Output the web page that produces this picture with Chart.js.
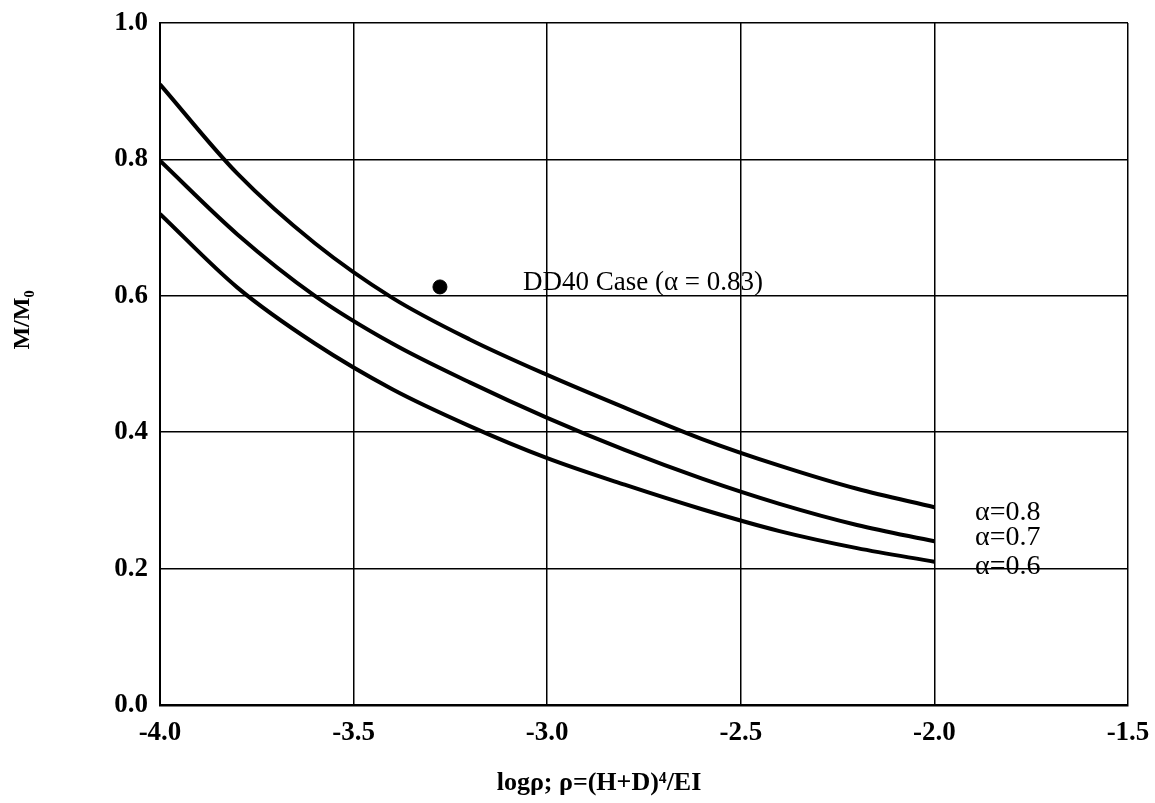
<!DOCTYPE html>
<html>
<head>
<meta charset="utf-8">
<script src="https://cdn.jsdelivr.net/npm/chart.js@4/dist/chart.umd.min.js"></script>
<style>
  html, body { margin: 0; background: #fff; }
</style>
</head>
<body>
<canvas id="chart" width="1155" height="803"></canvas>
<script>
// ── data ───────────────────────────────────────────────
const logRho = [-4.0, -3.8, -3.6, -3.4, -3.2, -3.0, -2.8, -2.6, -2.4, -2.2, -2.0];
const alpha08 = [0.910, 0.779, 0.677, 0.597, 0.536, 0.484, 0.436, 0.390, 0.351, 0.317, 0.290];
const alpha07 = [0.798, 0.690, 0.600, 0.530, 0.473, 0.421, 0.374, 0.332, 0.295, 0.264, 0.240];
const alpha06 = [0.720, 0.612, 0.530, 0.463, 0.409, 0.362, 0.323, 0.287, 0.255, 0.230, 0.210];
const caseX = [-3.277];
const caseY = [0.613];
const curveLabels = ['α=0.8', 'α=0.7', 'α=0.6'];
const caseLabel = 'DD40 Case (α = 0.83)';
const xTitle = 'logρ; ρ=(H+D)⁴/EI';
const yTitle = 'M/M₀';

const serif = '"Liberation Serif", "Times New Roman", serif';

function curve(ys) {
  return {
    data: logRho.map((x, i) => ({ x, y: ys[i] })),
    showLine: true,
    borderColor: '#000',
    borderWidth: 4,
    pointRadius: 0,
    cubicInterpolationMode: 'monotone',
    fill: false,
  };
}

// text drawn on top of the plot
const labelsPlugin = {
  id: 'labels',
  afterDraw(chart) {
    const { ctx, scales: { x, y } } = chart;
    ctx.save();
    ctx.fillStyle = '#000';
    ctx.textBaseline = 'middle';

    ctx.font = `27px ${serif}`;
    ctx.textAlign = 'left';
    ctx.fillText(caseLabel, x.getPixelForValue(-3.0625), y.getPixelForValue(0.619));

    ctx.font = `28px ${serif}`;
    const ly = [0.2815, 0.245, 0.203];
    curveLabels.forEach((t, i) => {
      ctx.fillText(t, x.getPixelForValue(-1.895), y.getPixelForValue(ly[i]));
    });

    ctx.font = `bold 26px ${serif}`;
    ctx.textAlign = 'center';
    ctx.fillText(xTitle, 599, 783);

    ctx.font = `bold 24px ${serif}`;
    ctx.translate(23, 320);
    ctx.rotate(-Math.PI / 2);
    ctx.fillText(yTitle, 0, 0);
    ctx.restore();
  },
};

new Chart(document.getElementById('chart'), {
  type: 'scatter',
  data: {
    datasets: [
      curve(alpha08),
      curve(alpha07),
      curve(alpha06),
      {
        data: caseX.map((x, i) => ({ x, y: caseY[i] })),
        backgroundColor: '#000',
        borderColor: '#000',
        pointRadius: 7,
        showLine: false,
      },
    ],
  },
  options: {
    responsive: false,
    animation: false,
    layout: { padding: { top: 23, right: 27, left: 0, bottom: 0 } },
    scales: {
      x: {
        type: 'linear',
        min: -4.0, max: -1.5,
        afterFit: (s) => { s.height = 98; s.paddingLeft = 0; s.paddingRight = 0; },
        grid: { color: '#000', lineWidth: 1.5, drawTicks: false },
        border: { color: '#000', width: 2.5 },
        ticks: {
          stepSize: 0.5, padding: 12, color: '#000',
          font: { family: serif, size: 27, weight: 'bold' },
          callback: (v) => v.toFixed(1),
        },
      },
      y: {
        min: 0, max: 1.0,
        afterFit: (s) => { s.width = 160; s.paddingTop = 0; s.paddingBottom = 0; },
        grid: { color: '#000', lineWidth: 1.5, drawTicks: false },
        border: { color: '#000', width: 2 },
        ticks: {
          stepSize: 0.2, padding: 12, color: '#000',
          font: { family: serif, size: 27, weight: 'bold' },
          callback: (v) => v.toFixed(1),
        },
      },
    },
    plugins: {
      legend: { display: false },
      tooltip: { enabled: false },
    },
  },
  plugins: [labelsPlugin],
});
</script>
</body>
</html>
